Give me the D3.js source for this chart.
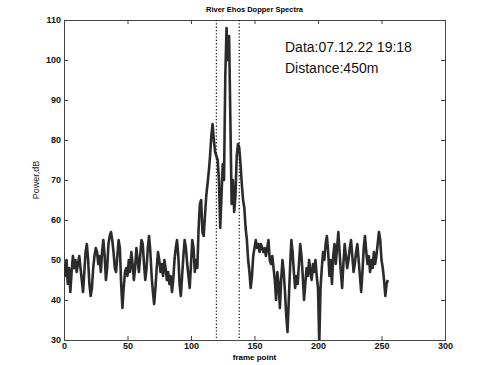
<!DOCTYPE html>
<meta charset="utf-8">
<style>
body { margin: 0; background: #fff; }
svg text { font-family: "Liberation Sans", Arial, sans-serif; }
.tick text { font-family: "Liberation Sans Narrow", "Liberation Sans", Arial, sans-serif; font-weight: bold; font-size: 9px; fill: #111; }
</style>
<div id="chart"></div>
<script src="https://d3js.org/d3.v7.min.js"></script>
<script>
  var width = 492, height = 365;
  var margin = {left: 64, right: 47, top: 20, bottom: 25};

  var title = "River Ehos Dopper Spectra";
  var xTicks = [0, 50, 100, 150, 200, 250, 300];
  var yTicks = [30, 40, 50, 60, 70, 80, 90, 100, 110];
  var markers = [120, 138];
  var notes = ["Data:07.12.22 19:18", "Distance:450m"];

  // power in dB per frame point
  var power = [
    49, 46, 50, 44, 48, 42, 47, 51, 48, 50, 47, 49, 51, 48, 45, 42, 47, 52, 54, 50,
    44, 41, 43, 48, 51, 53, 52, 49, 51, 47, 52, 55, 51, 45, 48, 54, 56, 57, 55, 52,
    48, 47, 51, 55, 53, 44, 38, 43, 47, 48, 46, 50, 47, 52, 49, 45, 48, 53, 50, 47,
    51, 55, 54, 49, 45, 48, 53, 56, 52, 46, 42, 39, 43, 48, 52, 50, 47, 49, 46, 50,
    48, 45, 47, 44, 46, 42, 45, 50, 53, 55, 51, 44, 41, 46, 51, 55, 53, 49, 46, 43,
    49, 55, 53, 47, 50, 48, 58, 64, 65, 57, 56, 61, 66, 69, 72, 76, 81, 84, 80, 77,
    76, 75, 70, 58, 66, 74, 70, 96, 108, 100, 106, 85, 64, 70, 62, 66, 76, 79, 78, 74,
    69, 65, 63, 58, 55, 50, 47, 43, 46, 51, 53, 55, 53, 54, 52, 54, 53, 52, 53, 51,
    53, 55, 50, 49, 51, 48, 45, 40, 47, 44, 38, 45, 50, 47, 42, 36, 32, 40, 48, 55,
    52, 47, 43, 46, 44, 49, 54, 51, 46, 40, 44, 48, 46, 50, 47, 45, 49, 47, 50, 46,
    43, 29, 43, 48, 52, 50, 54, 56, 52, 46, 50, 44, 51, 54, 49, 53, 57, 52, 47, 43,
    49, 54, 51, 48, 50, 53, 55, 51, 47, 49, 52, 54, 50, 46, 42, 47, 53, 56, 52, 49,
    51, 47, 50, 48, 52, 49, 51, 54, 57, 55, 50, 48, 45, 41, 44, 45
  ];

  var svg = d3.select("#chart").append("svg")
    .attr("width", width)
    .attr("height", height);

  var x = d3.scaleLinear().domain([0, 300]).range([margin.left, width - margin.right]);
  var y = d3.scaleLinear().domain([30, 110]).range([height - margin.bottom, margin.top]);

  svg.append("clipPath").attr("id", "clip")
    .append("rect")
    .attr("x", x(0)).attr("y", y(110))
    .attr("width", x(300) - x(0)).attr("height", y(30) - y(110));

  // axes, MATLAB style ticks pointing in
  var xAxis = svg.append("g")
    .attr("transform", "translate(0," + y(30) + ")")
    .call(d3.axisBottom(x).tickValues(xTicks).tickSize(-4).tickPadding(4));
  var yAxis = svg.append("g")
    .attr("transform", "translate(" + x(0) + ",0)")
    .call(d3.axisLeft(y).tickValues(yTicks).tickSize(-4).tickPadding(3));
  svg.append("g")
    .attr("transform", "translate(0," + y(110) + ")")
    .call(d3.axisTop(x).tickValues(xTicks).tickSize(-4).tickFormat(""));
  svg.append("g")
    .attr("transform", "translate(" + x(300) + ",0)")
    .call(d3.axisRight(y).tickValues(yTicks).tickSize(-4).tickFormat(""));

  svg.selectAll(".domain").attr("stroke", "#444");
  svg.selectAll(".tick line").attr("stroke", "#444");
  xAxis.selectAll(".tick text").attr("dy", "0.6em");

  // the spectrum
  var line = d3.line()
    .x(function(d, i) { return x(i); })
    .y(function(d) { return y(d); });

  svg.append("path")
    .datum(power)
    .attr("clip-path", "url(#clip)")
    .attr("fill", "none")
    .attr("stroke", "#2b2b2b")
    .attr("stroke-width", 2.6)
    .attr("stroke-linejoin", "round")
    .attr("d", line);

  // dotted markers
  svg.selectAll(".marker")
    .data(markers)
    .enter().append("line")
    .attr("class", "marker")
    .attr("x1", function(d) { return x(d); })
    .attr("x2", function(d) { return x(d); })
    .attr("y1", y(110))
    .attr("y2", y(30))
    .attr("stroke", "#222")
    .attr("stroke-width", 1.3)
    .attr("stroke-dasharray", "1.3,2");

  svg.append("text")
    .attr("x", (x(0) + x(300)) / 2)
    .attr("y", 12)
    .attr("text-anchor", "middle")
    .attr("font-size", 8)
    .attr("font-weight", "bold")
    .attr("textLength", 97)
    .attr("lengthAdjust", "spacingAndGlyphs")
    .text(title);

  svg.append("text")
    .attr("x", (x(0) + x(300)) / 2)
    .attr("y", 360)
    .attr("text-anchor", "middle")
    .attr("font-size", 8)
    .attr("font-weight", "bold")
    .text("frame point");

  svg.append("text")
    .attr("transform", "translate(39," + ((y(30) + y(110)) / 2) + ") rotate(-90)")
    .attr("text-anchor", "middle")
    .attr("font-size", 9)
    .attr("fill", "#222")
    .text("Power,dB");

  svg.selectAll(".note")
    .data(notes)
    .enter().append("text")
    .attr("class", "note")
    .attr("x", 285)
    .attr("y", function(d, i) { return 52 + i * 21; })
    .attr("font-size", 14)
    .attr("fill", "#111")
    .text(function(d) { return d; });
</script>
